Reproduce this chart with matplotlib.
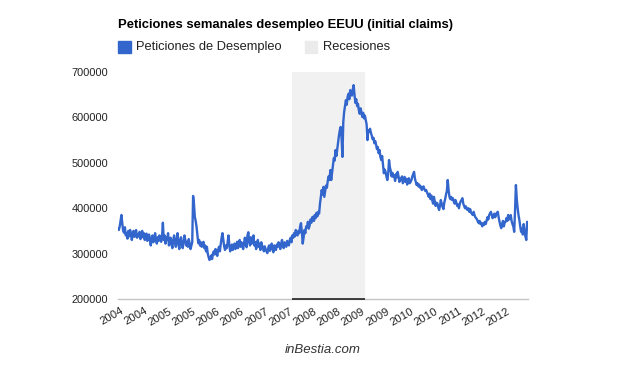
import matplotlib
matplotlib.use("Agg")
import matplotlib.pyplot as plt
from matplotlib.patches import Rectangle
from matplotlib.transforms import ScaledTranslation
import numpy as np
import pandas as pd

plt.rcParams["font.family"] = ["Liberation Sans", "DejaVu Sans"]

# ==================================
# DATA (weekly initial claims, thousands)
# ==================================

start_week = "2004-01-03"

claims_2004 = [355, 352, 360, 372, 385, 366, 350, 346, 358, 340, 345, 333, 350,
               338, 352, 345, 330, 342, 350, 337, 346, 352, 335, 343, 338, 348,
               332, 340, 350, 336, 345, 330, 338, 344, 328, 336, 342, 330, 318,
               335, 340, 325, 333, 345, 330, 322, 336, 328, 340, 332, 326, 338]
claims_2005 = [368, 330, 340, 322, 336, 330, 345, 318, 328, 335, 320, 312, 330,
               340, 325, 315, 330, 345, 322, 310, 328, 336, 320, 312, 325, 340,
               330, 318, 326, 315, 332, 322, 310, 318, 325, 427, 410, 381, 372,
               359, 340, 323, 330, 318, 325, 315, 322, 326, 312, 318, 305, 315]
claims_2006 = [300, 292, 286, 290, 296, 288, 300, 305, 298, 310, 302, 295, 308,
               315, 305, 320, 335, 345, 330, 316, 308, 318, 312, 325, 340, 318,
               305, 315, 320, 308, 316, 322, 310, 318, 326, 312, 320, 330, 315,
               325, 318, 310, 322, 335, 320, 314, 340, 347, 325, 318, 336, 322]
claims_2007 = [330, 340, 318, 325, 310, 320, 330, 315, 322, 308, 325, 318, 312,
               305, 316, 310, 305, 301, 312, 318, 306, 315, 322, 310, 303, 318,
               312, 308, 320, 315, 325, 318, 310, 322, 330, 316, 312, 325, 320,
               315, 328, 322, 318, 330, 335, 325, 340, 335, 345, 338, 352, 342]
claims_2008 = [340, 350, 345, 360, 367, 348, 322, 335, 352, 345, 360, 358, 370,
               355, 362, 375, 368, 380, 381, 372, 385, 378, 390, 382, 392, 388,
               410, 425, 440, 430, 447, 425, 438, 450, 445, 460, 470, 462, 484,
               462, 478, 495, 510, 505, 528, 515, 530, 545, 560, 572, 579, 555]
claims_2009 = [513, 590, 612, 625, 638, 628, 645, 652, 640, 660, 655, 648, 662,
               671, 650, 632, 640, 625, 630, 616, 608, 620, 612, 601, 610, 598,
               604, 594, 585, 550, 572, 568, 575, 566, 560, 552, 555, 543, 548,
               540, 530, 535, 521, 528, 513, 506, 515, 495, 477, 485, 480, 470]
claims_2010 = [462, 475, 506, 490, 482, 470, 478, 469, 472, 460, 475, 468, 480,
               470, 458, 465, 462, 470, 455, 462, 469, 458, 465, 452, 460, 466,
               455, 458, 462, 470, 475, 480, 465, 458, 451, 455, 448, 452, 445,
               448, 440, 446, 448, 442, 438, 440, 435, 430, 425, 432, 420, 428]
claims_2011 = [418, 410, 425, 415, 405, 412, 411, 402, 396, 405, 418, 410, 403,
               398, 412, 420, 430, 438, 462, 440, 425, 420, 425, 418, 422, 415,
               410, 418, 412, 405, 408, 400, 410, 415, 418, 422, 410, 405, 400,
               404, 398, 396, 400, 392, 398, 390, 388, 385, 392, 385, 380, 378]
claims_2012 = [375, 370, 367, 372, 365, 368, 360, 366, 363, 370, 365, 372, 380,
               375, 385, 388, 392, 385, 378, 382, 388, 380, 386, 390, 392, 380,
               370, 362, 356, 365, 372, 360, 368, 370, 378, 372, 385, 375, 380,
               385, 372, 365, 360, 348, 395, 451, 420, 400, 385, 374, 360, 348]
claims_2013 = [355, 342, 365, 350, 338, 330, 370, 360]

recession_start = "2007-11-17"
recession_end = "2009-06-27"

title = "Peticiones semanales desempleo EEUU (initial claims)"
series_label = "Peticiones de Desempleo"
recession_label = "Recesiones"
footer = "inBestia.com"

y_ticks = [200000, 300000, 400000, 500000, 600000, 700000]
label_every = 28

# ==================================
# BUILD SERIES
# ==================================

claims = np.array(claims_2004 + claims_2005 + claims_2006 + claims_2007
                  + claims_2008 + claims_2009 + claims_2010 + claims_2011
                  + claims_2012 + claims_2013) * 1000
weeks = pd.date_range(start_week, periods=len(claims), freq="7D")
idx = np.arange(len(claims))

rec_i0 = weeks.searchsorted(pd.Timestamp(recession_start))
rec_i1 = weeks.searchsorted(pd.Timestamp(recession_end))

blue = "#3366cc"
band = "#f1f1f1"
text_col = "#222222"

fig = plt.figure(figsize=(6.44, 3.71), dpi=100)
ax = fig.add_axes([118 / 644, 1 - 299 / 371, 410 / 644, 227 / 371])

ax.axvspan(rec_i0, rec_i1, color=band, lw=0, zorder=0)
ax.axhline(y_ticks[0], color="#c4c4c4", lw=1.0, zorder=1, clip_on=False)
ax.plot([rec_i0, rec_i1], [y_ticks[0], y_ticks[0]], color="#222222",
        lw=1.2, zorder=3, solid_capstyle="butt", clip_on=False)

ax.plot(idx, claims, color=blue, lw=1.7, zorder=2)

ax.set_xlim(0, len(claims) - 1)
ax.set_ylim(y_ticks[0], y_ticks[-1])

for s in ax.spines.values():
    s.set_visible(False)

ax.set_yticks(y_ticks)
ax.set_yticklabels([str(v) for v in y_ticks], fontsize=7.9, color=text_col)
tick_pos = idx[::label_every]
ax.set_xticks(tick_pos)
ax.set_xticklabels([str(weeks[i].year) for i in tick_pos], fontsize=8.1,
                   color=text_col, rotation=30, ha="right",
                   rotation_mode="anchor")
ax.tick_params(length=0)
ax.tick_params(axis="y", pad=7)
ax.tick_params(axis="x", pad=5)
for lbl in ax.get_xticklabels():
    lbl.set_transform(lbl.get_transform()
                      + ScaledTranslation(2 / 100, 0, fig.dpi_scale_trans))

# ==================================
# TITLE / LEGEND / FOOTER
# ==================================

fig.text(118 / 644, 1 - 25 / 371, title, fontsize=9.4, fontweight="bold",
         color="#000000", va="center", ha="left")

fig.patches.append(Rectangle((118 / 644, 1 - 53 / 371), 13 / 644, 12 / 371,
                             transform=fig.transFigure, color=blue))
fig.text(136 / 644, 1 - 47 / 371, series_label, fontsize=9.3,
         color=text_col, va="center", ha="left")
fig.patches.append(Rectangle((305 / 644, 1 - 53 / 371), 12 / 644, 12 / 371,
                             transform=fig.transFigure, color="#ebebeb"))
fig.text(323 / 644, 1 - 47 / 371, recession_label, fontsize=9.3,
         color=text_col, va="center", ha="left")

fig.text(323 / 644, 1 - 350 / 371, footer, fontsize=9.5, style="italic",
         color="#333333", va="center", ha="center")

plt.savefig("out.png", dpi=100)
plt.close()
